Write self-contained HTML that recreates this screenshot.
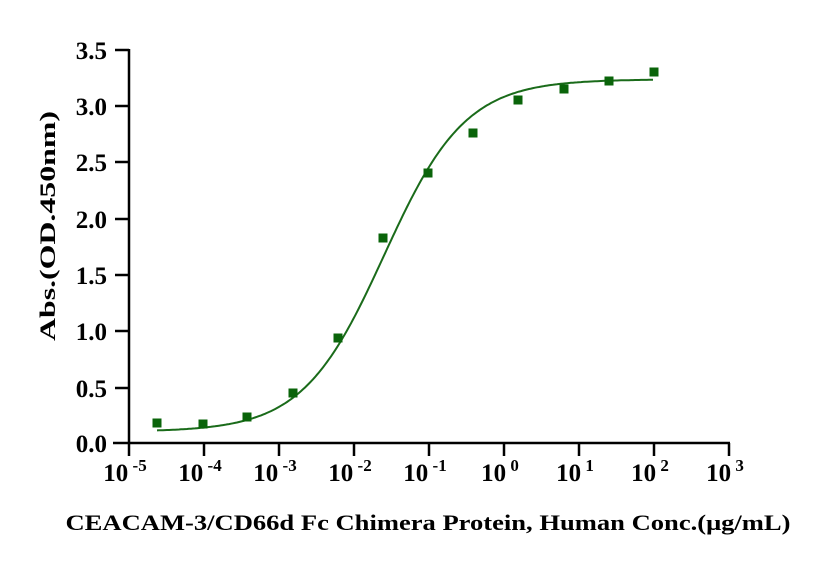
<!DOCTYPE html><html><head><style>body{margin:0;background:#fff}svg{display:block}text{font-family:"Liberation Serif",serif;font-weight:bold;fill:#000}</style></head><body>
<svg id="s" width="822" height="567" xmlns="http://www.w3.org/2000/svg">
<g stroke="#000" stroke-width="2.5" fill="none">
<line x1="129" y1="49" x2="129" y2="444"/>
<line x1="113" y1="443" x2="730" y2="443"/>
<line x1="115" y1="50" x2="129" y2="50"/><line x1="115" y1="106" x2="129" y2="106"/><line x1="115" y1="162" x2="129" y2="162"/><line x1="115" y1="219" x2="129" y2="219"/><line x1="115" y1="275" x2="129" y2="275"/><line x1="115" y1="331" x2="129" y2="331"/><line x1="115" y1="388" x2="129" y2="388"/>
<line x1="129" y1="443" x2="129" y2="456"/><line x1="204" y1="443" x2="204" y2="456"/><line x1="279" y1="443" x2="279" y2="456"/><line x1="354" y1="443" x2="354" y2="456"/><line x1="429" y1="443" x2="429" y2="456"/><line x1="504" y1="443" x2="504" y2="456"/><line x1="579" y1="443" x2="579" y2="456"/><line x1="654" y1="443" x2="654" y2="456"/><line x1="729" y1="443" x2="729" y2="456"/>
</g>
<g font-size="25" text-anchor="end">
<text x="107" y="59">3.5</text><text x="107" y="115">3.0</text><text x="107" y="171">2.5</text><text x="107" y="228">2.0</text><text x="107" y="284">1.5</text><text x="107" y="340">1.0</text><text x="107" y="397">0.5</text><text x="107" y="452">0.0</text>
</g>
<g font-size="25" text-anchor="middle" id="xl"></g>
<text x="0" y="0" font-size="22" text-anchor="middle" textLength="230" lengthAdjust="spacingAndGlyphs" transform="translate(55,226) rotate(-90)">Abs.(OD.450nm)</text>
<text x="428" y="530" font-size="22" text-anchor="middle" textLength="725" lengthAdjust="spacingAndGlyphs">CEACAM-3/CD66d Fc Chimera Protein, Human Conc.(μg/mL)</text>
<path id="c" fill="none" stroke="#1a6b1a" stroke-width="2"/>
<g id="p" fill="#0a640a"></g>
</svg>
<script>
var xl=document.getElementById('xl'),ex=['-5','-4','-3','-2','-1','0','1','2','3'];
for(var i=0;i<9;i++){var x=129+75*i;xl.innerHTML+='<text x="'+(x-4)+'" y="481">10<tspan font-size="17" dy="-10">'+(ex[i].length>1?' '+ex[i]:' '+ex[i])+'</tspan></text>';}
var pts=[[157,423],[203,424],[247,417],[293,393],[338,338],[383,238],[428,173],[473,133],[518,100],[564,89],[609,81],[654,72]],g=document.getElementById('p');
pts.forEach(function(p){g.innerHTML+='<rect x="'+(p[0]-4.5)+'" y="'+(p[1]-4.5)+'" width="9" height="9"/>';});
function Y(v){return 443-v*112.6;}
var d='';for(var x=157;x<=654;x+=2){var l=-5+(x-129)/75,v=0.1+(3.13)/(1+Math.pow(10,(-1.6-l)*0.8));d+=(d?'L':'M')+x+','+Y(v).toFixed(1);}
document.getElementById('c').setAttribute('d',d);
</script>
</body></html>
